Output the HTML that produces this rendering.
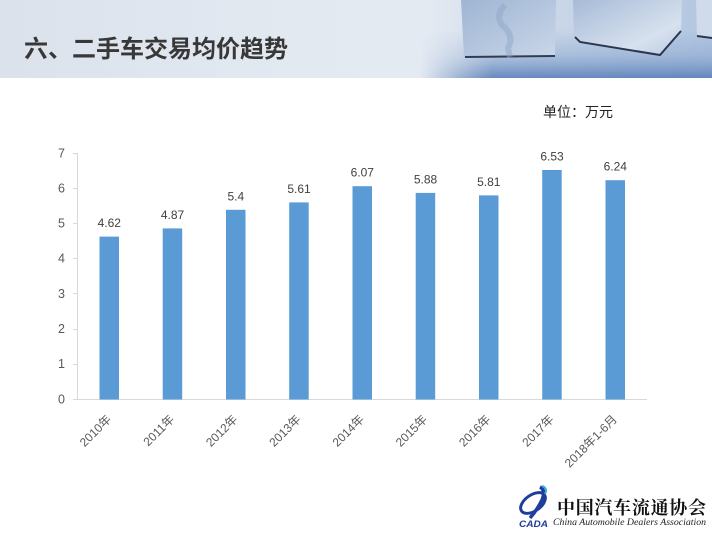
<!DOCTYPE html>
<html><head><meta charset="utf-8"><style>
html,body{margin:0;padding:0;background:#fff;}
svg{display:block;}
text{font-family:"Liberation Sans","Noto Sans CJK SC",sans-serif;}
</style></head><body>
<svg width="712" height="534" viewBox="0 0 712 534" xmlns="http://www.w3.org/2000/svg">
<defs>
<linearGradient id="hbg" x1="0" y1="0" x2="1" y2="0">
<stop offset="0" stop-color="#dbe2ec"/>
<stop offset="0.4" stop-color="#e3e9f1"/>
<stop offset="0.6" stop-color="#e4eaf2"/>
<stop offset="0.72" stop-color="#d0dbea"/>
<stop offset="1" stop-color="#b3c6e0"/>
</linearGradient>
<linearGradient id="hsh" x1="0" y1="0" x2="0" y2="1">
<stop offset="0" stop-color="#7f9fcc" stop-opacity="0"/>
<stop offset="0.5" stop-color="#7f9fcc" stop-opacity="0.4"/>
<stop offset="1" stop-color="#5a7fb8" stop-opacity="0.9"/>
</linearGradient>
<linearGradient id="hshx" x1="0" y1="0" x2="1" y2="0">
<stop offset="0" stop-color="#fff" stop-opacity="0"/>
<stop offset="0.25" stop-color="#fff" stop-opacity="1"/>
<stop offset="1" stop-color="#fff" stop-opacity="1"/>
</linearGradient>
<mask id="shm"><rect x="420" y="0" width="292" height="78" fill="url(#hshx)"/></mask>
<linearGradient id="c1" x1="0" y1="0" x2="1" y2="1">
<stop offset="0" stop-color="#9fb5d4"/>
<stop offset="1" stop-color="#c9d6e8"/>
</linearGradient>
<linearGradient id="c2" x1="0" y1="0" x2="1" y2="1">
<stop offset="0" stop-color="#a7bbd8"/>
<stop offset="0.7" stop-color="#d7e1ee"/>
<stop offset="1" stop-color="#b8c9e0"/>
</linearGradient>
</defs>
<!-- header -->
<rect x="0" y="0" width="712" height="78" fill="url(#hbg)"/>
<rect x="420" y="30" width="292" height="48" fill="url(#hsh)" mask="url(#shm)"/>
<!-- cube 1 -->
<polygon points="461,0 556,0 555,56 464,57" fill="url(#c1)"/>
<path d="M465,57 L555,56" stroke="#2e3c55" stroke-width="2"/>
<path d="M505,5 Q495,15 502,25 Q515,35 508,48 L510,57" stroke="#8fa6c8" stroke-width="6" fill="none" opacity="0.5"/>
<!-- cube 2 -->
<polygon points="573,0 682,0 681,30 660,55 578,42 574,36" fill="url(#c2)"/>
<path d="M575,37 L580,42 L660,55 L681,31" stroke="#2b3750" stroke-width="2" fill="none"/>
<!-- cube 3 -->
<polygon points="696,0 712,0 712,38 697,36" fill="#cfdbea"/>
<path d="M697,36 L712,38" stroke="#2b3750" stroke-width="2"/>
<text x="24" y="57" font-size="24" font-weight="bold" fill="#383838" style='font-family:"Noto Sans CJK SC",sans-serif'>六、二手车交易均价趋势</text>

<!-- unit -->
<text x="543" y="117" font-size="14" fill="#222" style='font-family:"Noto Sans CJK SC",sans-serif'>单位：万元</text>

<!-- axes -->
<line x1="77.5" y1="153" x2="77.5" y2="399.5" stroke="#d9d9d9" stroke-width="1"/>
<line x1="73" y1="399.5" x2="647" y2="399.5" stroke="#d9d9d9" stroke-width="1"/>
<g stroke="#d9d9d9" stroke-width="1">
<line x1="73" y1="153.5" x2="77.5" y2="153.5"/>
<line x1="73" y1="188.5" x2="77.5" y2="188.5"/>
<line x1="73" y1="223.5" x2="77.5" y2="223.5"/>
<line x1="73" y1="258.5" x2="77.5" y2="258.5"/>
<line x1="73" y1="293.5" x2="77.5" y2="293.5"/>
<line x1="73" y1="329.5" x2="77.5" y2="329.5"/>
<line x1="73" y1="364.5" x2="77.5" y2="364.5"/>
</g>
<g font-size="12.5" fill="#595959" text-anchor="end">
<text x="65" y="157.5">7</text>
<text x="65" y="192.5">6</text>
<text x="65" y="227.5">5</text>
<text x="65" y="262.5">4</text>
<text x="65" y="298">3</text>
<text x="65" y="333">2</text>
<text x="65" y="368">1</text>
<text x="65" y="403.5">0</text>
</g>

<!-- bars -->
<g fill="#5b9bd5">
<rect x="99.5" y="236.6" width="19.5" height="162.9"/>
<rect x="162.7" y="228.4" width="19.5" height="171.1"/>
<rect x="226" y="209.8" width="19.5" height="189.7"/>
<rect x="289.2" y="202.4" width="19.5" height="197.1"/>
<rect x="352.5" y="186.2" width="19.5" height="213.3"/>
<rect x="415.7" y="192.9" width="19.5" height="206.6"/>
<rect x="479" y="195.4" width="19.5" height="204.1"/>
<rect x="542.2" y="170" width="19.5" height="229.5"/>
<rect x="605.5" y="180.2" width="19.5" height="219.3"/>
</g>
<g font-size="12" fill="#404040" text-anchor="middle">
<text x="109.3" y="227">4.62</text>
<text x="172.5" y="219">4.87</text>
<text x="235.8" y="200.3">5.4</text>
<text x="299" y="193">5.61</text>
<text x="362.3" y="176.7">6.07</text>
<text x="425.5" y="183.4">5.88</text>
<text x="488.8" y="186">5.81</text>
<text x="552" y="160.5">6.53</text>
<text x="615.3" y="170.7">6.24</text>
</g>
<g font-size="12" fill="#595959" text-anchor="end">
<text transform="translate(112,420) rotate(-45)">2010年</text>
<text transform="translate(175,420) rotate(-45)">2011年</text>
<text transform="translate(238.3,420) rotate(-45)">2012年</text>
<text transform="translate(301.5,420) rotate(-45)">2013年</text>
<text transform="translate(364.8,420) rotate(-45)">2014年</text>
<text transform="translate(428,420) rotate(-45)">2015年</text>
<text transform="translate(491.3,420) rotate(-45)">2016年</text>
<text transform="translate(554.5,420) rotate(-45)">2017年</text>
<text transform="translate(617.8,420) rotate(-45)">2018年1-6月</text>
</g>

<!-- logo -->
<g>
<ellipse cx="533" cy="503" rx="14" ry="8" transform="rotate(-35 533 503)" fill="none" stroke="#1f3d9a" stroke-width="3"/>
<path d="M540,487 Q546,490 542,500 Q537,510 530,518" stroke="#1f3d9a" stroke-width="3.5" fill="none"/>
<path d="M542,486 Q548,488 545,494" stroke="#3fa9e0" stroke-width="2" fill="none"/>
<text x="519" y="527" font-size="9" font-weight="bold" font-style="italic" fill="#1f3d9a" textLength="29" lengthAdjust="spacingAndGlyphs">CADA</text>
<text x="557" y="514" font-size="18" font-weight="bold" fill="#111" textLength="149" lengthAdjust="spacing" style='font-family:"Noto Serif CJK SC","Noto Sans CJK SC",serif'>中国汽车流通协会</text>
<text x="553" y="525" font-size="9.5" font-style="italic" fill="#222" textLength="153" lengthAdjust="spacingAndGlyphs" style='font-family:"Liberation Serif",serif'>China Automobile Dealers Association</text>
</g>
</svg>
</body></html>
